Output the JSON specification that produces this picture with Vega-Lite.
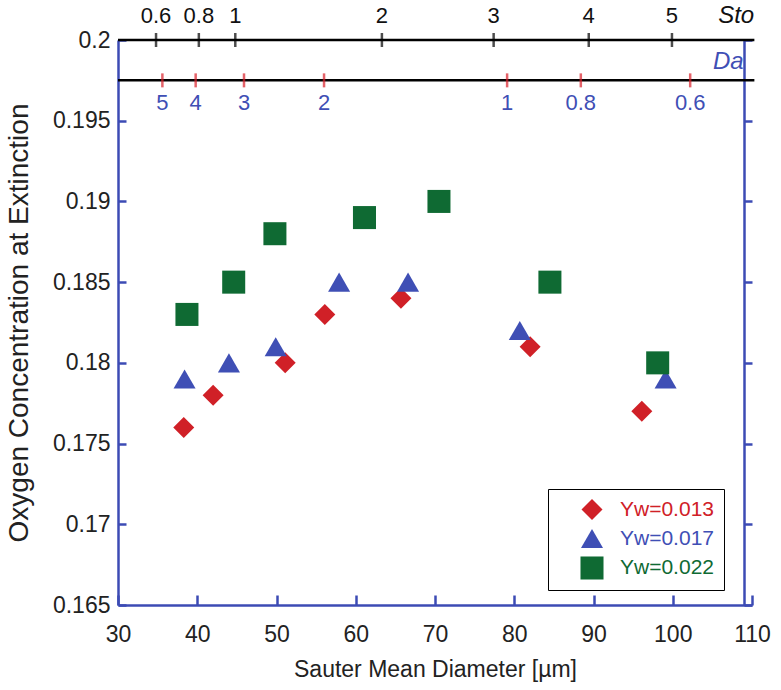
{
 "$schema": "https://vega.github.io/schema/vega-lite/v6.json",
 "width": 634, "height": 565,
 "autosize": {"type": "none"},
 "padding": {"left": 118, "top": 40, "right": 29, "bottom": 85},
 "background": "white",
 "config": {"view": {"stroke": null}, "font": "Liberation Sans"},
 "datasets": {
  "points": [
   {"d": 38.3, "o": 0.176, "s": "Yw=0.013"},
   {"d": 42.0, "o": 0.178, "s": "Yw=0.013"},
   {"d": 51.1, "o": 0.180, "s": "Yw=0.013"},
   {"d": 56.1, "o": 0.183, "s": "Yw=0.013"},
   {"d": 65.7, "o": 0.184, "s": "Yw=0.013"},
   {"d": 82.0, "o": 0.181, "s": "Yw=0.013"},
   {"d": 96.1, "o": 0.177, "s": "Yw=0.013"},
   {"d": 38.4, "o": 0.179, "s": "Yw=0.017"},
   {"d": 44.0, "o": 0.180, "s": "Yw=0.017"},
   {"d": 49.9, "o": 0.181, "s": "Yw=0.017"},
   {"d": 57.9, "o": 0.185, "s": "Yw=0.017"},
   {"d": 66.6, "o": 0.185, "s": "Yw=0.017"},
   {"d": 80.7, "o": 0.182, "s": "Yw=0.017"},
   {"d": 99.1, "o": 0.179, "s": "Yw=0.017"},
   {"d": 38.7, "o": 0.183, "s": "Yw=0.022"},
   {"d": 44.6, "o": 0.185, "s": "Yw=0.022"},
   {"d": 49.8, "o": 0.188, "s": "Yw=0.022"},
   {"d": 61.1, "o": 0.189, "s": "Yw=0.022"},
   {"d": 70.5, "o": 0.190, "s": "Yw=0.022"},
   {"d": 84.5, "o": 0.185, "s": "Yw=0.022"},
   {"d": 98.1, "o": 0.180, "s": "Yw=0.022"}
  ],
  "sto": [
   {"x": 34.8, "label": "0.6"}, {"x": 40.2, "label": "0.8"}, {"x": 44.8, "label": "1"},
   {"x": 63.3, "label": "2"}, {"x": 77.4, "label": "3"}, {"x": 89.4, "label": "4"}, {"x": 99.9, "label": "5"}
  ],
  "da": [
   {"x": 35.6, "label": "5"}, {"x": 39.8, "label": "4"}, {"x": 45.9, "label": "3"},
   {"x": 56.0, "label": "2"}, {"x": 79.1, "label": "1"}, {"x": 88.4, "label": "0.8"}, {"x": 102.2, "label": "0.6"}
  ],
  "stoName": [{"x": 108.0, "label": "Sto"}],
  "daName": [{"x": 107.0, "label": "Da"}]
 },
 "resolve": {"axis": {"x": "independent", "y": "independent"}},
 "layer": [
  {
   "data": {"name": "daName"},
   "mark": {"type": "rule", "color": "black", "strokeWidth": 2.5},
   "encoding": {
    "x": {"datum": 30, "type": "quantitative", "scale": {"domain": [30, 110], "nice": false, "zero": false}, "axis": null},
    "x2": {"datum": 110.3},
    "y": {"datum": 0.1975, "type": "quantitative", "scale": {"domain": [0.165, 0.2], "nice": false, "zero": false},
      "axis": {"orient": "right", "title": null, "labels": false, "values": [0.165, 0.17, 0.175, 0.18, 0.185, 0.19, 0.195, 0.2],
        "tickSize": 8, "ticks": true, "tickColor": "#3c4bb4", "tickWidth": 2.5, "domainColor": "#3c4bb4", "domainWidth": 2.5, "grid": false, "offset": -8}
    }
   }
  },
  {
   "data": {"name": "points"},
   "mark": {"type": "point", "filled": true, "opacity": 1},
   "encoding": {
    "x": {"field": "d", "type": "quantitative", "scale": {"domain": [30, 110], "nice": false, "zero": false},
      "axis": {"orient": "bottom", "title": "Sauter Mean Diameter [µm]", "values": [30, 40, 50, 60, 70, 80, 90, 100, 110],
        "grid": false, "tickSize": -10, "tickColor": "#3c4bb4", "tickWidth": 2.5, "domainColor": "#3c4bb4", "domainWidth": 2.5,
        "labelFontSize": 23, "labelColor": "#222", "labelPadding": 28, "titleFontSize": 23, "titleFontWeight": "normal", "titleColor": "#222", "titlePadding": 12, "labelFlush": false}},
    "y": {"field": "o", "type": "quantitative", "scale": {"domain": [0.165, 0.2], "nice": false, "zero": false},
      "axis": {"orient": "left", "title": "Oxygen Concentration at Extinction", "values": [0.165, 0.17, 0.175, 0.18, 0.185, 0.19, 0.195, 0.2], "format": ".3~f",
        "grid": false, "tickSize": -8, "tickColor": "#3c4bb4", "tickWidth": 2.5, "domainColor": "#3c4bb4", "domainWidth": 2.5,
        "labelFontSize": 23, "labelColor": "#222", "labelPadding": 16, "titleFontSize": 28, "titleFontWeight": "normal", "titleColor": "#222", "titlePadding": 19, "labelFlush": false}},
    "color": {"field": "s", "type": "ordinal", "scale": {"domain": ["Yw=0.013", "Yw=0.017", "Yw=0.022"], "range": ["#d02027", "#3f4fb5", "#0f6a33"]},
      "legend": {"orient": "none", "legendX": 430, "legendY": 449, "title": null, "padding": 10, "labelFontSize": 21, "labelFont": "Liberation Sans",
        "symbolOffset": 22, "labelOffset": 16, "rowPadding": 7, "strokeColor": "black", "fillColor": "white",
        "symbolStrokeWidth": 0, "symbolOpacity": 1,
        "encode": {"labels": {"update": {"fill": {"scale": "color", "field": "value"}}}}}},
    "shape": {"field": "s", "type": "ordinal", "scale": {"domain": ["Yw=0.013", "Yw=0.017", "Yw=0.022"], "range": ["diamond", "triangle-up", "square"]}},
    "size": {"field": "s", "type": "ordinal", "scale": {"domain": ["Yw=0.013", "Yw=0.017", "Yw=0.022"], "range": [441, 530, 400]}}
   }
  },
  {
   "data": {"name": "daName"},
   "mark": {"type": "rule", "color": "black", "strokeWidth": 2.5},
   "encoding": {
    "x": {"datum": 30, "type": "quantitative", "scale": {"domain": [30, 110], "nice": false, "zero": false}, "axis": null},
    "x2": {"datum": 110.3},
    "y": {"datum": 0.2, "type": "quantitative", "scale": {"domain": [0.165, 0.2], "nice": false, "zero": false}, "axis": null}
   }
  },
  {
   "data": {"name": "sto"},
   "mark": {"type": "tick", "orient": "vertical", "size": 14, "thickness": 2.5, "color": "black"},
   "encoding": {
    "x": {"field": "x", "type": "quantitative", "scale": {"domain": [30, 110], "nice": false, "zero": false}, "axis": null},
    "y": {"datum": 0.2, "type": "quantitative", "scale": {"domain": [0.165, 0.2], "nice": false, "zero": false}, "axis": null}
   }
  },
  {
   "data": {"name": "sto"},
   "mark": {"type": "text", "fontSize": 22, "color": "#111", "baseline": "middle", "dy": -24},
   "encoding": {
    "x": {"field": "x", "type": "quantitative", "scale": {"domain": [30, 110], "nice": false, "zero": false}, "axis": null},
    "y": {"datum": 0.2, "type": "quantitative", "scale": {"domain": [0.165, 0.2], "nice": false, "zero": false}, "axis": null},
    "text": {"field": "label"}
   }
  },
  {
   "data": {"name": "da"},
   "mark": {"type": "tick", "orient": "vertical", "size": 14, "thickness": 2.5, "color": "#d8202a"},
   "encoding": {
    "x": {"field": "x", "type": "quantitative", "scale": {"domain": [30, 110], "nice": false, "zero": false}, "axis": null},
    "y": {"datum": 0.1975, "type": "quantitative", "scale": {"domain": [0.165, 0.2], "nice": false, "zero": false}, "axis": null}
   }
  },
  {
   "data": {"name": "da"},
   "mark": {"type": "text", "fontSize": 22, "color": "#3f4fb5", "baseline": "middle", "dy": 23},
   "encoding": {
    "x": {"field": "x", "type": "quantitative", "scale": {"domain": [30, 110], "nice": false, "zero": false}, "axis": null},
    "y": {"datum": 0.1975, "type": "quantitative", "scale": {"domain": [0.165, 0.2], "nice": false, "zero": false}, "axis": null},
    "text": {"field": "label"}
   }
  },
  {
   "data": {"name": "stoName"},
   "mark": {"type": "text", "fontSize": 24, "fontStyle": "italic", "color": "#111", "baseline": "middle", "dy": -24},
   "encoding": {
    "x": {"field": "x", "type": "quantitative", "scale": {"domain": [30, 110], "nice": false, "zero": false}, "axis": null},
    "y": {"datum": 0.2, "type": "quantitative", "scale": {"domain": [0.165, 0.2], "nice": false, "zero": false}, "axis": null},
    "text": {"field": "label"}
   }
  },
  {
   "data": {"name": "daName"},
   "mark": {"type": "text", "fontSize": 24, "fontStyle": "italic", "color": "#3f4fb5", "baseline": "middle", "dy": -18},
   "encoding": {
    "x": {"field": "x", "type": "quantitative", "scale": {"domain": [30, 110], "nice": false, "zero": false}, "axis": null},
    "y": {"datum": 0.1975, "type": "quantitative", "scale": {"domain": [0.165, 0.2], "nice": false, "zero": false}, "axis": null},
    "text": {"field": "label"}
   }
  }
 ]
}
